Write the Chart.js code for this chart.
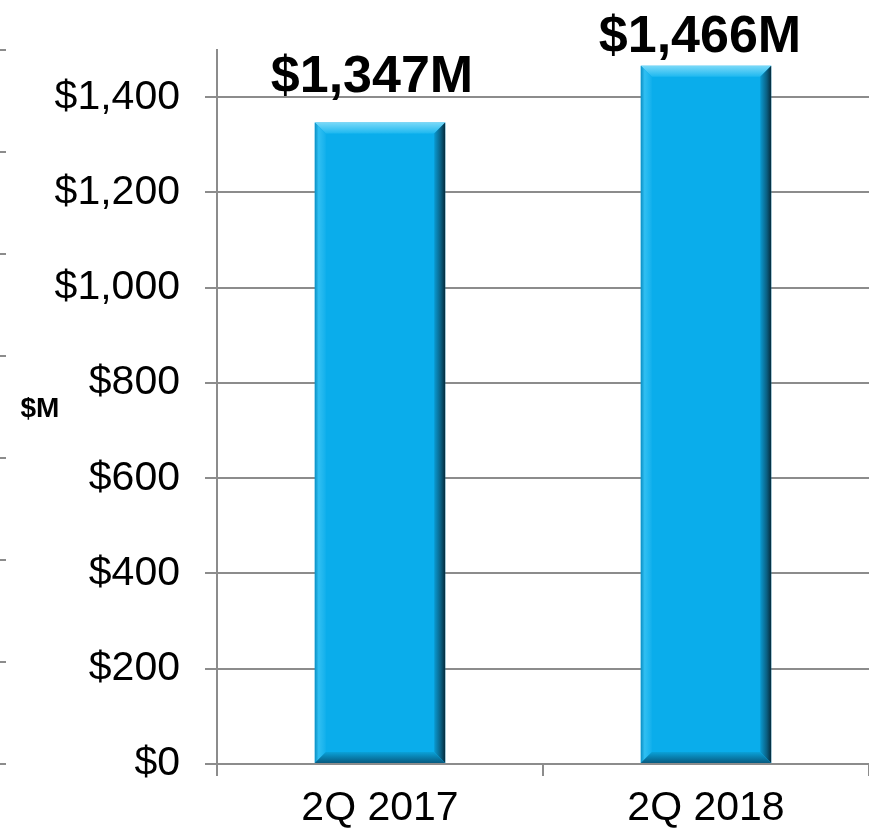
<!DOCTYPE html>
<html>
<head>
<meta charset="utf-8">
<script src="https://cdn.jsdelivr.net/npm/chart.js@4.4.1/dist/chart.umd.min.js"></script>
<style>
  html, body { margin: 0; padding: 0; background: #ffffff; }
  #wrap { width: 869px; height: 833px; position: relative; }
</style>
</head>
<body>
<div id="wrap"><canvas id="c"></canvas></div>
<script>
// ---- data ----
const categories = ['2Q 2017', '2Q 2018'];
const revenue = [1347, 1466];
const valueLabels = ['$1,347M', '$1,466M'];
const yTickValues = [0, 200, 400, 600, 800, 1000, 1200, 1400];
const yAxisTitle = '$M';

const FONT = "'Liberation Sans', Arial, Helvetica, sans-serif";
const GRID = '#8c8c8c';

const bevelPlugin = {
  id: 'bevel',
  afterDatasetsDraw(chart) {
    const ctx = chart.ctx;
    const meta = chart.getDatasetMeta(0);
    meta.data.forEach((bar) => {
      const l = bar.x - bar.width / 2, r = bar.x + bar.width / 2;
      const t = bar.y, b = bar.base;
      const bv = 11;
      ctx.save();
      // top
      let g = ctx.createLinearGradient(0, t, 0, t + bv);
      g.addColorStop(0, '#7ad9f8'); g.addColorStop(1, '#1db8f0');
      ctx.fillStyle = g;
      ctx.beginPath(); ctx.moveTo(l, t); ctx.lineTo(r, t); ctx.lineTo(r - bv, t + bv); ctx.lineTo(l + bv, t + bv); ctx.closePath(); ctx.fill();
      // left
      g = ctx.createLinearGradient(l, 0, l + bv, 0);
      g.addColorStop(0, '#0a8fc4'); g.addColorStop(0.35, '#30bff2'); g.addColorStop(1, '#12b0ec');
      ctx.fillStyle = g;
      ctx.beginPath(); ctx.moveTo(l, t); ctx.lineTo(l + bv, t + bv); ctx.lineTo(l + bv, b - bv); ctx.lineTo(l, b); ctx.closePath(); ctx.fill();
      // right
      g = ctx.createLinearGradient(r - bv, 0, r, 0);
      g.addColorStop(0, '#0a9ad1'); g.addColorStop(0.6, '#0a5f82'); g.addColorStop(1, '#052a3b');
      ctx.fillStyle = g;
      ctx.beginPath(); ctx.moveTo(r, t); ctx.lineTo(r, b); ctx.lineTo(r - bv, b - bv); ctx.lineTo(r - bv, t + bv); ctx.closePath(); ctx.fill();
      // bottom
      g = ctx.createLinearGradient(0, b - bv, 0, b);
      g.addColorStop(0, '#0aa2d9'); g.addColorStop(1, '#075a80');
      ctx.fillStyle = g;
      ctx.beginPath(); ctx.moveTo(l, b); ctx.lineTo(r, b); ctx.lineTo(r - bv, b - bv); ctx.lineTo(l + bv, b - bv); ctx.closePath(); ctx.fill();
      ctx.restore();
    });
  }
};

const labelPlugin = {
  id: 'valueLabels',
  afterDatasetsDraw(chart, args, opts) {
    const ctx = chart.ctx;
    const meta = chart.getDatasetMeta(0);
    ctx.save();
    ctx.font = 'bold 52px ' + FONT;
    ctx.fillStyle = '#000';
    ctx.textAlign = 'center';
    ctx.textBaseline = 'alphabetic';
    meta.data.forEach((bar, i) => {
      ctx.fillText(valueLabels[i], bar.x + opts.dx[i], bar.y - opts.gap[i]);
    });
    ctx.restore();
  }
};

const titlePlugin = {
  id: 'yTitle',
  afterDraw(chart) {
    const ctx = chart.ctx;
    const a = chart.chartArea;
    ctx.save();
    ctx.font = 'bold 28px ' + FONT;
    ctx.fillStyle = '#000';
    ctx.textAlign = 'center';
    ctx.textBaseline = 'middle';
    ctx.fillText(yAxisTitle, 40, (a.top + a.bottom) / 2 + 2);
    ctx.restore();
  }
};

new Chart(document.getElementById('c'), {
  type: 'bar',
  data: {
    labels: categories,
    datasets: [{
      data: revenue,
      backgroundColor: '#0aadeb',
      borderWidth: 0,
      categoryPercentage: 1.0,
      barPercentage: 0.4
    }]
  },
  options: {
    responsive: true,
    maintainAspectRatio: false,
    animation: false,
    layout: { padding: { top: 48, left: 0, right: 0, bottom: 0 } },
    plugins: {
      legend: { display: false },
      tooltip: { enabled: false },
      valueLabels: { gap: [30, 14], dx: [-8, -6] }
    },
    scales: {
      x: {
        offset: true,
        afterFit(scale) { scale.height = 69; },
        grid: { display: true, drawOnChartArea: false, color: GRID, lineWidth: 2, tickLength: 12 },
        border: { display: true, color: GRID, width: 2 },
        ticks: { color: '#000', padding: 8, font: { family: FONT, size: 41, lineHeight: 1.2 } }
      },
      y: {
        position: 'left',
        min: 0,
        max: 1500,
        afterBuildTicks(scale) { scale.ticks = yTickValues.map(v => ({ value: v })); },
        afterFit(scale) { scale.width = 211; },
        grid: { color: GRID, lineWidth: 2, tickLength: 12 },
        border: { display: true, color: GRID, width: 2 },
        ticks: {
          color: '#000', padding: 25,
          font: { family: FONT, size: 41 },
          callback: (v) => '$' + Number(v).toLocaleString('en-US')
        }
      },
      yEdge: {
        position: 'left',
        weight: 5,
        min: 0,
        max: 7,
        ticks: { display: false, stepSize: 1 },
        afterFit(scale) { scale.width = 6; },
        grid: { drawOnChartArea: false, color: GRID, lineWidth: 2, tickLength: 6 },
        border: { display: false }
      }
    }
  },
  plugins: [bevelPlugin, labelPlugin, titlePlugin]
});
</script>
</body>
</html>
